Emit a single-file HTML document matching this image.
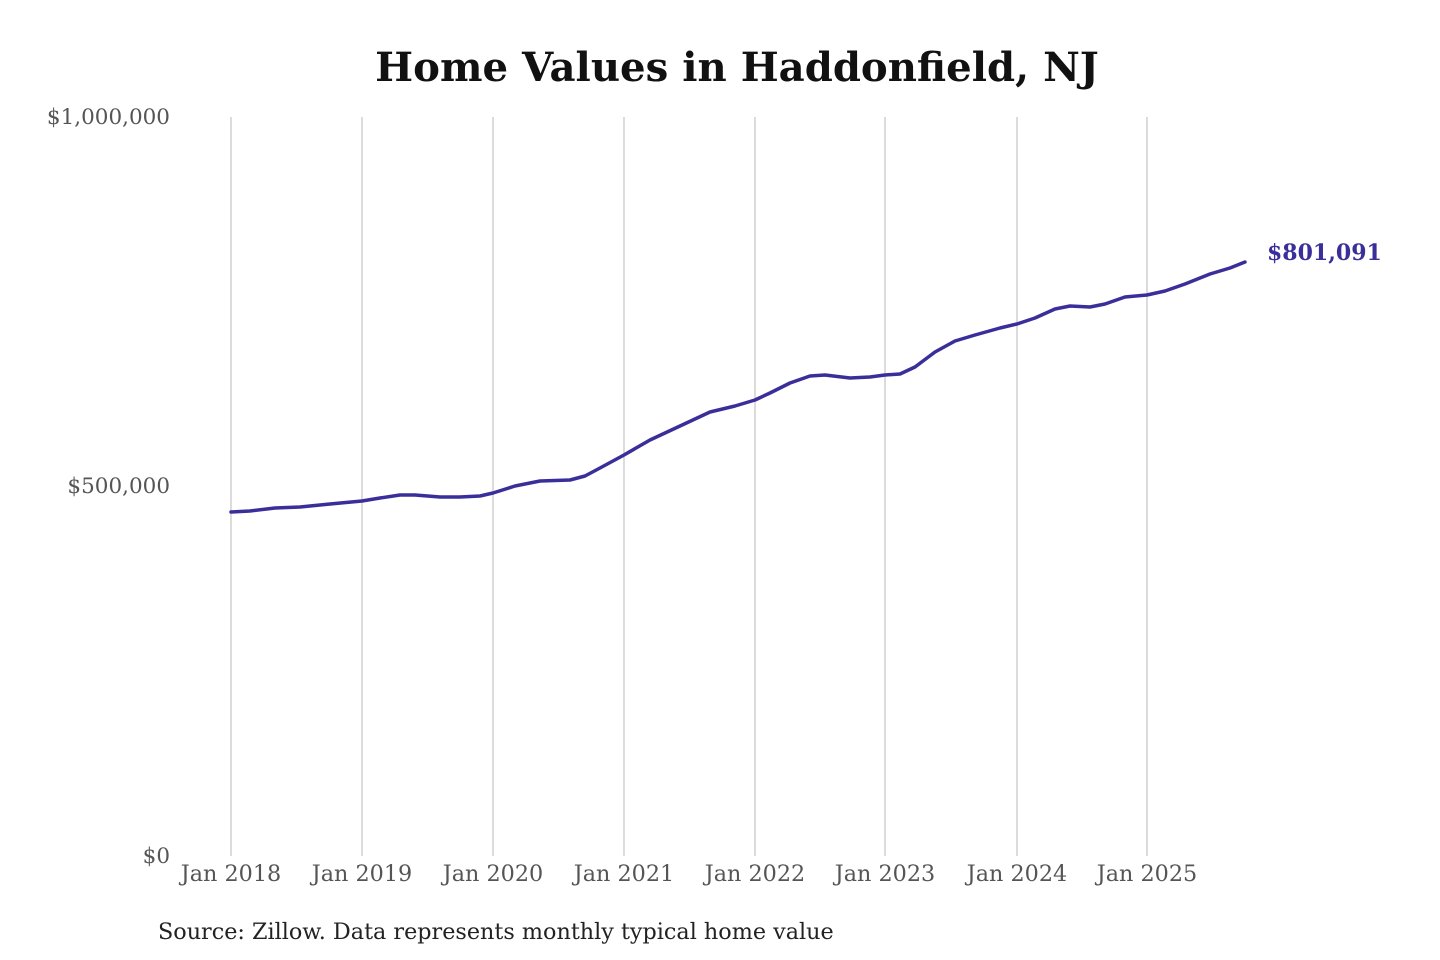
<!DOCTYPE html>
<html><head><meta charset="utf-8"><style>
html,body{margin:0;padding:0;background:#fff;width:1440px;height:960px;overflow:hidden}
text{font-family:"DejaVu Serif","Liberation Serif",serif}
</style></head><body>
<svg width="1440" height="960" viewBox="0 0 1440 960" xmlns="http://www.w3.org/2000/svg">
<text x="737" y="81" text-anchor="middle" font-size="40.2" font-weight="bold" fill="#111">Home Values in Haddonfield, NJ</text>
<g stroke="#c8c8c8" stroke-width="1.3">
<line x1="231" y1="117" x2="231" y2="856"/>
<line x1="362" y1="117" x2="362" y2="856"/>
<line x1="493" y1="117" x2="493" y2="856"/>
<line x1="624" y1="117" x2="624" y2="856"/>
<line x1="755" y1="117" x2="755" y2="856"/>
<line x1="885" y1="117" x2="885" y2="856"/>
<line x1="1017" y1="117" x2="1017" y2="856"/>
<line x1="1147" y1="117" x2="1147" y2="856"/>
</g>
<g font-size="21.5" fill="#555" text-anchor="end">
<text x="170" y="124">$1,000,000</text>
<text x="170" y="493">$500,000</text>
<text x="170" y="863">$0</text>
</g>
<g font-size="22.3" fill="#555" text-anchor="middle">
<text x="231" y="881">Jan 2018</text>
<text x="362" y="881">Jan 2019</text>
<text x="493" y="881">Jan 2020</text>
<text x="624" y="881">Jan 2021</text>
<text x="755" y="881">Jan 2022</text>
<text x="885" y="881">Jan 2023</text>
<text x="1017" y="881">Jan 2024</text>
<text x="1147" y="881">Jan 2025</text>
</g>
<polyline fill="none" stroke="#3a2f9a" stroke-width="3.5" stroke-linejoin="round" stroke-linecap="round" points="231,512 250,511 275,508 300,507 330,504 362,501 380,498 400,495 415,495 440,497 460,497 480,496 493,493 515,486 540,481 570,480 585,476 600,468 624,455 650,440 680,426 710,412 735,406 755,400 770,393 790,383 810,376 825,375 850,378 870,377 885,375 900,374 915,367 935,352 955,341 975,335 1000,328 1017,324 1035,318 1055,309 1070,306 1090,307 1105,304 1125,297 1147,295 1165,291 1185,284 1210,274 1230,268 1245,262"/>
<text x="1267" y="260" font-size="22" font-weight="bold" fill="#3a2f9a">$801,091</text>
<text x="158" y="939" font-size="22.3" fill="#222">Source: Zillow. Data represents monthly typical home value</text>
</svg>
</body></html>
